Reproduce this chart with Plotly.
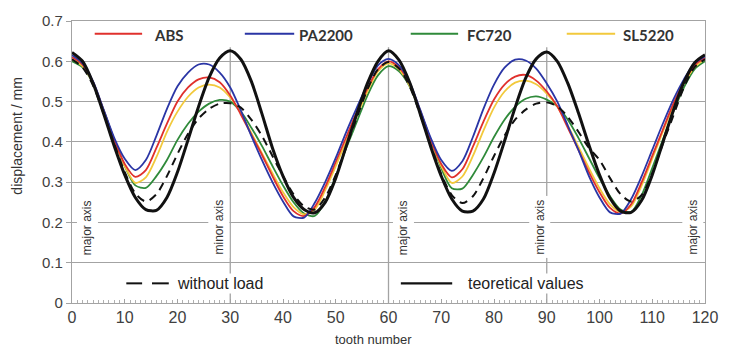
import plotly.graph_objects as go

tooth = list(range(0, 121, 2))

theoretical = [0.622,0.600,0.545,0.470,0.390,0.318,0.262,0.232,0.230,0.262,0.325,0.405,0.488,0.560,0.608,0.626,
               0.605,0.550,0.470,0.385,0.315,0.262,0.232,0.224,0.250,0.310,0.390,0.470,0.545,0.600,0.626,
               0.603,0.548,0.470,0.388,0.315,0.258,0.228,0.228,0.258,0.322,0.402,0.485,0.558,0.606,0.623,
               0.600,0.545,0.472,0.392,0.318,0.260,0.228,0.225,0.255,0.318,0.398,0.478,0.548,0.596,0.616]
pa2200 = [0.615,0.595,0.550,0.480,0.410,0.358,0.330,0.355,0.415,0.482,0.538,0.572,0.592,0.592,0.572,0.535,
          0.478,0.415,0.355,0.300,0.252,0.215,0.212,0.248,0.300,0.360,0.425,0.485,0.542,0.590,0.606,
          0.590,0.548,0.480,0.410,0.355,0.328,0.352,0.412,0.482,0.542,0.584,0.604,0.602,0.582,0.545,
          0.500,0.440,0.380,0.315,0.262,0.225,0.222,0.258,0.315,0.380,0.445,0.505,0.555,0.595,0.612]
abs_ = [0.610,0.592,0.548,0.478,0.405,0.345,0.313,0.330,0.385,0.445,0.500,0.535,0.555,0.560,0.548,0.515,
        0.468,0.418,0.368,0.315,0.265,0.228,0.216,0.238,0.288,0.350,0.412,0.475,0.532,0.580,0.600,
        0.585,0.545,0.478,0.405,0.345,0.312,0.332,0.388,0.450,0.505,0.542,0.562,0.566,0.552,0.525,
        0.488,0.435,0.380,0.325,0.275,0.236,0.222,0.245,0.300,0.365,0.430,0.495,0.548,0.590,0.608]
sl5220 = [0.605,0.588,0.545,0.478,0.405,0.340,0.298,0.312,0.362,0.425,0.475,0.512,0.535,0.542,0.535,0.510,
          0.472,0.422,0.372,0.322,0.275,0.238,0.220,0.232,0.280,0.340,0.402,0.465,0.525,0.575,0.595,
          0.580,0.540,0.475,0.405,0.340,0.298,0.314,0.365,0.428,0.485,0.525,0.547,0.552,0.543,0.520,
          0.488,0.440,0.388,0.335,0.285,0.245,0.226,0.240,0.292,0.358,0.425,0.490,0.545,0.585,0.605]
fc720 = [0.600,0.585,0.545,0.478,0.405,0.340,0.292,0.286,0.315,0.355,0.405,0.445,0.475,0.495,0.504,0.500,
         0.475,0.435,0.390,0.340,0.292,0.250,0.222,0.216,0.252,0.315,0.385,0.450,0.515,0.565,0.588,
         0.575,0.538,0.475,0.405,0.335,0.285,0.284,0.318,0.362,0.412,0.455,0.487,0.507,0.513,0.505,
         0.488,0.455,0.410,0.360,0.310,0.265,0.232,0.226,0.268,0.335,0.405,0.475,0.535,0.580,0.600]
without_load = [0.605,0.585,0.540,0.470,0.395,0.325,0.272,0.252,0.270,0.315,0.370,0.420,0.458,0.482,0.495,0.496,
                0.485,0.455,0.415,0.365,0.315,0.270,0.240,0.232,0.262,0.318,0.388,0.460,0.530,0.580,0.598,
                0.582,0.538,0.468,0.392,0.320,0.268,0.248,0.265,0.310,0.365,0.415,0.455,0.480,0.495,0.498,
                0.488,0.462,0.425,0.385,0.355,0.310,0.270,0.252,0.268,0.322,0.395,0.465,0.535,0.585,0.605]

series_names = ["ABS", "PA2200", "FC720", "SL5220"]
axis_marks = [(0, "major axis"), (30, "minor axis"), (60, "major axis"), (90, "minor axis"), (120, "major axis")]
x_ticks = list(range(0, 121, 10))
y_ticks = [0, 0.1, 0.2, 0.3, 0.4, 0.5, 0.6, 0.7]

C_RED = "#e0302c"
C_BLUE = "#2a35a5"
C_GREEN = "#2f8a3a"
C_YEL = "#f2c93c"
C_BLK = "#111111"
GRID = "#a3a3a3"

W, H = 730, 347
L, R, T, B = 72, 17, 16, 44
PW, PH = W - L - R, H - T - B

def px(xp):
    return (xp - L) / PW

def py(yp):
    return (H - B - yp) / PH

fig = go.Figure()
for name, vals, col in [("FC720", fc720, C_GREEN), ("SL5220", sl5220, C_YEL),
                        ("ABS", abs_, C_RED), ("PA2200", pa2200, C_BLUE)]:
    fig.add_trace(go.Scatter(x=tooth, y=vals, mode="lines", name=name,
                             line=dict(color=col, width=1.8, shape="spline", smoothing=0.8)))
fig.add_trace(go.Scatter(x=tooth, y=without_load, mode="lines", name="without load",
                         line=dict(color=C_BLK, width=2, dash="8px,6px", shape="spline", smoothing=0.8)))
fig.add_trace(go.Scatter(x=tooth, y=theoretical, mode="lines", name="teoretical values",
                         line=dict(color=C_BLK, width=3, shape="spline", smoothing=0.8)))

shapes = []
for xv in (30, 60, 90):
    shapes.append(dict(type="line", xref="x", yref="y", x0=xv, x1=xv, y0=0, y1=0.635,
                       line=dict(color=GRID, width=1.3), layer="below"))

ann = []
# top legend
legend_items = [(95, 143, 153, "ABS", C_RED), (247, 297, 300, "PA2200", C_BLUE),
                (415, 463, 470, "FC720", C_GREEN), (573, 622, 628, "SL5220", C_YEL)]
for (x0, x1, xt, name, col) in legend_items:
    shapes.append(dict(type="line", xref="paper", yref="paper", x0=px(x0), x1=px(x1),
                       y0=py(29), y1=py(29), line=dict(color=col, width=2)))
    ann.append(dict(xref="paper", yref="paper", x=px(xt), y=py(30), xanchor="left", yanchor="middle",
                    text="<b>%s</b>" % name, showarrow=False,
                    font=dict(family="Lato", size=15, color="#333333")))

# bottom legend
shapes.append(dict(type="line", xref="paper", yref="paper", x0=px(127), x1=px(143), y0=py(283), y1=py(283),
                   line=dict(color=C_BLK, width=2)))
shapes.append(dict(type="line", xref="paper", yref="paper", x0=px(153), x1=px(170), y0=py(283), y1=py(283),
                   line=dict(color=C_BLK, width=2)))
shapes.append(dict(type="line", xref="paper", yref="paper", x0=px(405), x1=px(457), y0=py(283), y1=py(283),
                   line=dict(color=C_BLK, width=2.2)))
ann.append(dict(xref="paper", yref="paper", x=px(176), y=py(283), xanchor="left", yanchor="middle",
                text="without load", showarrow=False, bgcolor="white", borderpad=1,
                font=dict(family="Liberation Sans", size=16, color="#222222")))
ann.append(dict(xref="paper", yref="paper", x=px(471), y=py(283), xanchor="left", yanchor="middle",
                text="teoretical values", showarrow=False, bgcolor="white", borderpad=1,
                font=dict(family="Liberation Sans", size=16, color="#222222")))

# axis marks
mark_px = {0: 88, 30: 221, 60: 408, 90: 546, 120: 701}
for xv, txt in axis_marks:
    ann.append(dict(xref="paper", yref="paper", x=px(mark_px[xv]), y=py(226), xanchor="center", yanchor="middle",
                    text=txt, textangle=-90, showarrow=False, bgcolor="white", borderpad=3,
                    font=dict(family="Liberation Sans", size=12, color="#333333")))

# axis titles
ann.append(dict(xref="paper", yref="paper", x=px(16), y=py(133), xanchor="center", yanchor="middle",
                text="displacement / mm", textangle=-90, showarrow=False,
                font=dict(family="Liberation Sans", size=14, color="#333333")))
ann.append(dict(xref="paper", yref="paper", x=px(377), y=py(340), xanchor="center", yanchor="middle",
                text="tooth number", showarrow=False,
                font=dict(family="Liberation Sans", size=13, color="#333333")))

fig.update_layout(
    width=W, height=H, margin=dict(l=L, r=R, t=T, b=B),
    paper_bgcolor="white", plot_bgcolor="white", showlegend=False,
    shapes=shapes, annotations=ann,
    xaxis=dict(range=[0, 120], tickvals=x_ticks, showgrid=False, zeroline=False,
               showline=True, linecolor=GRID, linewidth=1.3, mirror=True,
               ticks="inside", ticklen=4, tickcolor=GRID,
               minor=dict(dtick=1, ticks="inside", ticklen=3, tickcolor="#b0b0b0"),
               tickfont=dict(family="Liberation Sans", size=16, color="#404040")),
    yaxis=dict(range=[0, 0.7], tickvals=y_ticks, ticktext=["0", "0.1", "0.2", "0.3", "0.4", "0.5", "0.6", "0.7"],
               showgrid=True, gridcolor=GRID, gridwidth=1.3, zeroline=False,
               showline=True, linecolor=GRID, linewidth=1.3, mirror=True,
               ticks="outside", ticklen=5, tickcolor=GRID,
               tickfont=dict(family="Liberation Sans", size=15, color="#404040")),
)

fig.write_html("out.html")
